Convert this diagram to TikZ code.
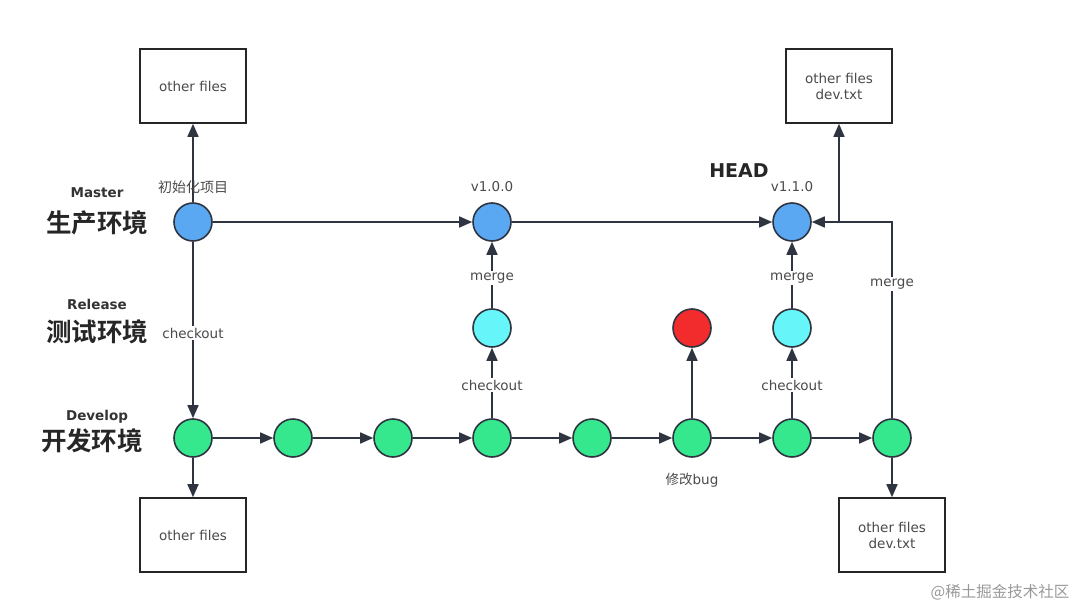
\documentclass[tikz,border=0pt]{standalone}
\usepackage{fontspec}
\setmainfont{DejaVu Sans}
\newfontfamily\cjk{Noto Sans CJK SC}
\newfontfamily\cjkb{Noto Sans CJK SC Bold}
\usetikzlibrary{arrows.meta}
\definecolor{edge}{HTML}{2E3440}
\definecolor{mblue}{HTML}{5AA8F2}
\definecolor{rcyan}{HTML}{66F6F9}
\definecolor{bred}{HTML}{F22C2C}
\definecolor{dgreen}{HTML}{35E88E}
\definecolor{txt}{HTML}{4A4A4A}
\begin{document}
\begin{tikzpicture}[x=1pt,y=-1pt,
  commit/.style={circle,draw=edge,line width=1.6pt,minimum size=38pt,inner sep=0pt},
  filebox/.style={draw=black!85,line width=1.6pt,minimum width=106pt,minimum height=74pt,align=center,font=\fontsize{13.5}{16}\selectfont,text=txt},
  arr/.style={line width=1.6pt,draw=edge,-{Triangle[length=13pt,width=11pt]}},
  lbl/.style={font=\fontsize{13.5}{16}\selectfont,text=txt,inner sep=2pt},
  lblw/.style={lbl,fill=white},
  rowen/.style={font=\bfseries\fontsize{13.5}{16}\selectfont,text=black!80},
  rowcn/.style={font=\cjkb\fontsize{25.5}{30}\selectfont,text=black!85}]
\useasboundingbox (0,0) rectangle (1074,610);
% row labels
\node[rowen] (tM) at (97,193) {Master};
\node[rowcn] (cM) at (97,223) {生产环境};
\node[rowen] (tR) at (97,304) {Release};
\node[rowcn] (cR) at (97,332) {测试环境};
\node[rowen] (tD) at (97,417) {Develop};
\node[rowcn] (cD) at (92,441) {开发环境};
% boxes
\node[filebox] (TL) at (193,86) {other files};
\node[filebox] (TR) at (839,86) {other files\\dev.txt};
\node[filebox] (BL) at (193,535) {other files};
\node[filebox] (BR) at (892,535) {other files\\dev.txt};
% master
\node[commit,fill=mblue] (M1) at (193,222) {};
\node[commit,fill=mblue] (M2) at (492,222) {};
\node[commit,fill=mblue] (M3) at (792,222) {};
% release
\node[commit,fill=rcyan] (R1) at (492,328) {};
\node[commit,fill=bred] (R2) at (692,328) {};
\node[commit,fill=rcyan] (R3) at (792,328) {};
% develop
\foreach \i/\x in {1/193,2/293,3/393,4/492,5/592,6/692,7/792,8/892}
  \node[commit,fill=dgreen] (D\i) at (\x,438) {};
% connectors
\draw[arr] (M1) -- (TL);
\draw[arr] (M1) -- (M2);
\draw[arr] (M2) -- (M3);
\draw[arr] (M1) -- (D1);
\draw[arr] (D1) -- (BL);
\foreach \a/\b in {1/2,2/3,3/4,4/5,5/6,6/7,7/8}
  \draw[arr] (D\a) -- (D\b);
\draw[arr] (D4) -- (R1);
\draw[arr] (R1) -- (M2);
\draw[arr] (D6) -- (R2);
\draw[arr] (D7) -- (R3);
\draw[arr] (R3) -- (M3);
\coordinate (K) at (892,222);
\coordinate (J) at (839,222);
\draw[arr] (D8) -- (K) -- (M3);
\draw[arr] (J) -- (TR);
\draw[arr] (D8) -- (BR);
% labels
\node[lbl,font=\cjk\fontsize{14}{16}\selectfont] (l0) at (193,187) {初始化项目};
\node[lbl] (l1) at (492,187) {v1.0.0};
\node[lbl] (l2) at (792,187) {v1.1.0};
\node[font=\bfseries\fontsize{19}{22}\selectfont,text=black!85] (hd) at (739,171) {HEAD};
\node[lblw] (ck1) at (193,333) {checkout};
\node[lblw] (ck2) at (492,385) {checkout};
\node[lblw] (ck3) at (792,385) {checkout};
\node[lblw] (mg1) at (492,278) {merge};
\node[lblw] (mg2) at (792,278) {merge};
\node[lblw] (mg3) at (892,284) {merge};
\node[lbl] (bug) at (692,480) {\cjk 修改\rmfamily bug};
\node[font=\cjk\fontsize{15.5}{18}\selectfont,text=black!40] (wm) at (1000,592) {@稀土掘金技术社区};
\end{tikzpicture}
\end{document}
